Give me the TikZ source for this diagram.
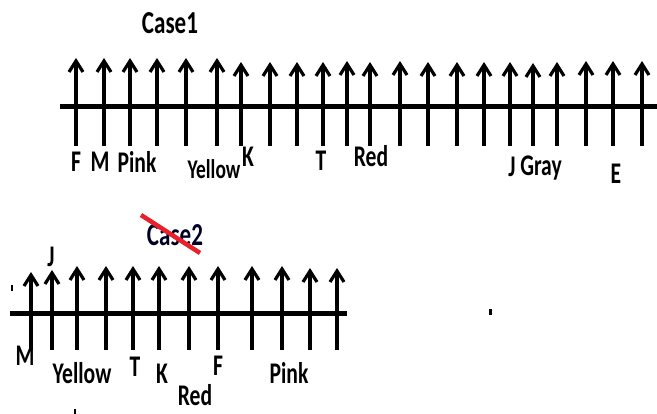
\documentclass[tikz,border=0pt]{standalone}
\usepackage{fontspec}
\newfontfamily\labfont[FakeStretch=0.72]{Carlito}
\usetikzlibrary{arrows.meta}
\definecolor{strike}{HTML}{E8202A}
\tikzset{
  upar/.style={line width=3.2pt,-{Straight Barb[length=11pt,width=14pt]}},
  axis/.style={line width=5pt},
  lab/.style={font=\labfont\bfseries\fontsize{30}{30}\selectfont,inner sep=0pt,anchor=base},
  ttl/.style={font=\labfont\bfseries\fontsize{32}{32}\selectfont,inner sep=0pt,anchor=base},
  speck/.style={fill=black}
}
\begin{document}
\begin{tikzpicture}[x=1pt,y=-1pt]
\useasboundingbox (0,0) rectangle (657,414);
% ---------- Case 1 ----------
\node[ttl] (t1) at (170,34) {Case1};
\coordinate (h1l) at (60,107);
\coordinate (h1r) at (657,107);
\draw[axis] (h1l) -- (h1r);
\foreach \x/\t [count=\i] in {76/58,104/58,130/58,157/58,186/58,217/58,241/62,270/62,297/62,323/62,347/61,370/62,400/61,428/62,457/62,484/62,510/62,533/63,557/62,586/61,613/61,642/61}{
  \coordinate (a\i b) at (\x,146);
  \coordinate (a\i t) at (\x,\t);
  \draw[upar] (a\i b) -- (a\i t);
}
\node[lab] (c1F) at (76,172) {F};
\node[lab] (c1M) at (100,172) {M};
\node[lab] (c1Pink) at (137,173) {Pink};
\node[lab,font=\labfont\bfseries\fontsize{27}{27}\selectfont] (c1Yellow) at (214,179) {Yellow};
\node[lab] (c1K) at (248,167) {K};
\node[lab] (c1T) at (321,171) {T};
\node[lab] (c1Red) at (371,167) {Red};
\node[lab] (c1J) at (512,177) {J};
\node[lab] (c1Gray) at (541,176) {Gray};
\node[lab] (c1E) at (616,184) {E};
% ---------- Case 2 ----------
\node[ttl,text=black!85!blue] (t2) at (175,246) {Case2};
\coordinate (s1) at (141,215);
\coordinate (s2) at (200,253);
\draw[strike,line width=4.5pt] (s1) -- (s2);
\coordinate (h2l) at (10,314);
\coordinate (h2r) at (347,314);
\draw[axis] (h2l) -- (h2r);
\foreach \x/\t [count=\i] in {31/272,52/270,77/266,106/266,133/266,159/266,189/266,218/266,252/266,282/266,310/268,337/268}{
  \coordinate (b\i b) at (\x,350);
  \coordinate (b\i t) at (\x,\t);
  \draw[upar] (b\i b) -- (b\i t);
}
\node[lab] (c2J) at (51,267) {J};
\node[lab] (c2M) at (25,366) {M};
\node[lab] (c2Yellow) at (82,384) {Yellow};
\node[lab] (c2T) at (135,377) {T};
\node[lab] (c2K) at (162,384) {K};
\node[lab] (c2F) at (218,376) {F};
\node[lab] (c2Pink) at (289,384) {Pink};
\node[lab] (c2Red) at (195,406) {Red};
% stray specks
\fill[speck] (11,285) rectangle (13,291);
\fill[speck] (489,309) rectangle (492,315);
\fill[speck] (74,409) rectangle (76,414);
\end{tikzpicture}
\end{document}
